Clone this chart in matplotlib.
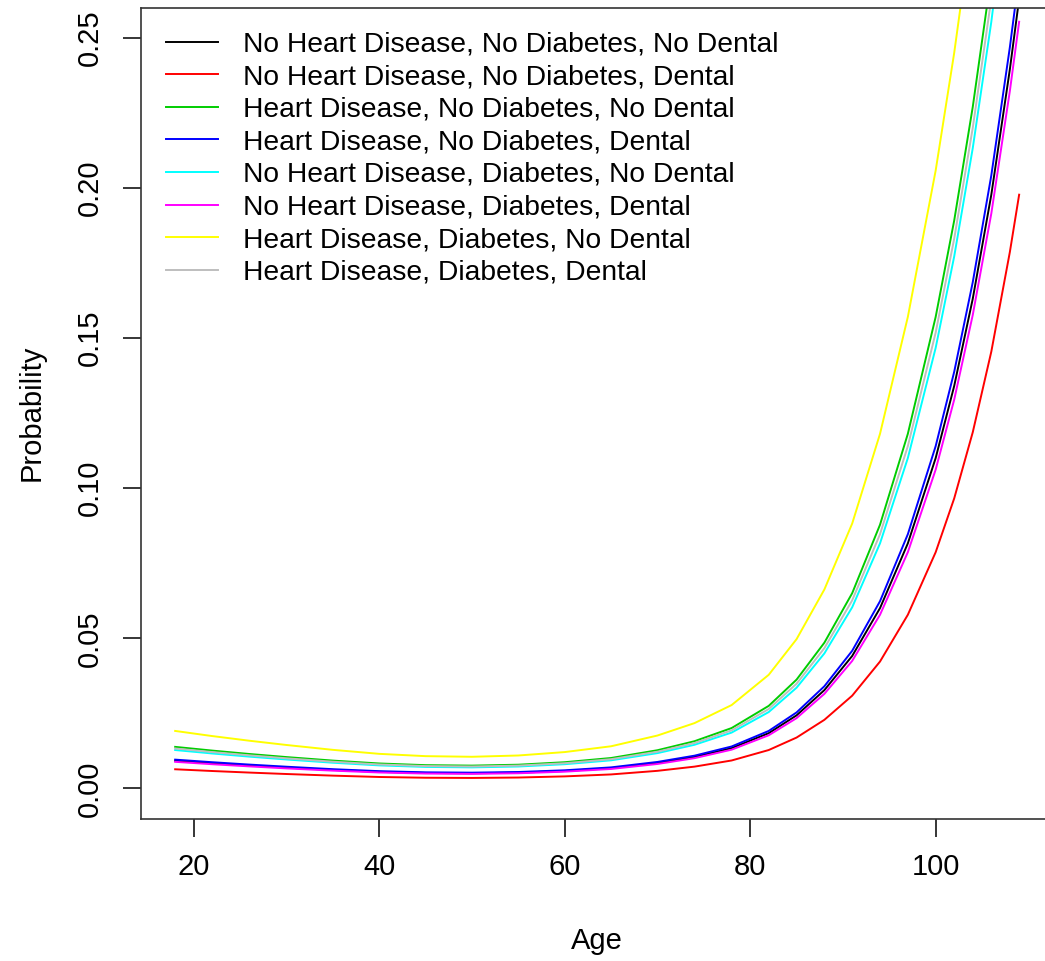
import matplotlib
matplotlib.use("Agg")
import matplotlib.pyplot as plt

ages = [18, 22, 26, 30, 35, 40, 45, 50, 55, 60, 65, 70, 74, 78, 82, 85,
        88, 91, 94, 97, 100, 102, 104, 106, 108, 109]

p_none = [0.00924, 0.00841, 0.00765, 0.00696, 0.00618, 0.00554, 0.00517,
          0.00507, 0.00527, 0.00582, 0.00676, 0.00849, 0.01051, 0.01345,
          0.01843, 0.02436, 0.03277, 0.04415, 0.06009, 0.08166, 0.11007,
          0.13412, 0.16315, 0.19781, 0.23957, 0.26308]
p_dental = [0.00640, 0.00582, 0.00530, 0.00482, 0.00428, 0.00383, 0.00358,
            0.00351, 0.00365, 0.00403, 0.00468, 0.00588, 0.00728, 0.00933,
            0.01281, 0.01696, 0.02287, 0.03092, 0.04229, 0.05787, 0.07871,
            0.09665, 0.11868, 0.14554, 0.17873, 0.19781]
p_heart = [0.01386, 0.01262, 0.01149, 0.01046, 0.00929, 0.00833, 0.00777,
           0.00762, 0.00792, 0.00875, 0.01015, 0.01274, 0.01575, 0.02013,
           0.02752, 0.03626, 0.04857, 0.06507, 0.08787, 0.11816, 0.15710,
           0.18924, 0.22707, 0.27094, 0.32192, 0.34980]
p_heart_dental = [0.00961, 0.00875, 0.00796, 0.00725, 0.00643, 0.00577,
                  0.00538, 0.00527, 0.00549, 0.00606, 0.00703, 0.00884,
                  0.01093, 0.01399, 0.01917, 0.02533, 0.03406, 0.04587,
                  0.06239, 0.08471, 0.11405, 0.13883, 0.16868, 0.20424,
                  0.24694, 0.27093]
p_diab = [0.01281, 0.01166, 0.01061, 0.00966, 0.00858, 0.00769, 0.00718,
          0.00703, 0.00732, 0.00808, 0.00938, 0.01178, 0.01456, 0.01862,
          0.02546, 0.03357, 0.04500, 0.06037, 0.08166, 0.11008, 0.14679,
          0.17727, 0.21334, 0.25541, 0.30473, 0.33182]
p_diab_dental = [0.00888, 0.00808, 0.00736, 0.00669, 0.00594, 0.00533,
                 0.00497, 0.00487, 0.00507, 0.00560, 0.00650, 0.00816,
                 0.01010, 0.01293, 0.01772, 0.02343, 0.03152, 0.04250,
                 0.05787, 0.07871, 0.10622, 0.12955, 0.15776, 0.19155,
                 0.23237, 0.25541]
p_heart_diab = [0.01917, 0.01746, 0.01591, 0.01449, 0.01287, 0.01154,
                0.01077, 0.01056, 0.01099, 0.01213, 0.01406, 0.01764,
                0.02178, 0.02779, 0.03787, 0.04974, 0.06630, 0.08827,
                0.11816, 0.15710, 0.20587, 0.24509, 0.29009, 0.34068,
                0.39772, 0.42798]
p_all = [0.01332, 0.01213, 0.01104, 0.01005, 0.00892, 0.00800, 0.00747,
         0.00732, 0.00762, 0.00841, 0.00976, 0.01225, 0.01514, 0.01936,
         0.02647, 0.03489, 0.04675, 0.06268, 0.08471, 0.11405, 0.15187,
         0.18317, 0.22011, 0.26308, 0.31323, 0.34067]

labels = [
    "No Heart Disease, No Diabetes, No Dental",
    "No Heart Disease, No Diabetes, Dental",
    "Heart Disease, No Diabetes, No Dental",
    "Heart Disease, No Diabetes, Dental",
    "No Heart Disease, Diabetes, No Dental",
    "No Heart Disease, Diabetes, Dental",
    "Heart Disease, Diabetes, No Dental",
    "Heart Disease, Diabetes, Dental",
]
series = [p_none, p_dental, p_heart, p_heart_dental,
          p_diab, p_diab_dental, p_heart_diab, p_all]
# R's old default palette(), in the same order as the legend
colors = ["black", "red", "#00CD00", "blue", "cyan", "magenta", "yellow", "#BEBEBE"]

plt.rcParams["font.family"] = ["Liberation Sans", "DejaVu Sans"]
fs = 21
fs_leg = 20.3

W, H = 1045, 961
fig = plt.figure(figsize=(W / 100, H / 100), dpi=100, facecolor="white")

# plot region in pixels; the right edge runs past the image like in the original crop
left, right, top, bottom = 141.4, 1052.9, 8.0, 818.5
ax = fig.add_axes([left / W, (H - bottom) / H, (right - left) / W, (bottom - top) / H])

for vals, col, lab in zip(series, colors, labels):
    ax.plot(ages, vals, color=col, lw=1.4, label=lab)

ax.set_xlim(14.36, 112.64)
ax.set_ylim(-0.01, 0.26)
ax.set_xticks([20, 40, 60, 80, 100])
ax.set_yticks([0.00, 0.05, 0.10, 0.15, 0.20, 0.25])
ax.set_yticklabels(["0.00", "0.05", "0.10", "0.15", "0.20", "0.25"],
                   rotation=90, va="center")
ax.tick_params(direction="out", length=13, width=1.1, labelsize=fs,
               colors="black")
ax.tick_params(axis="x", pad=12)
ax.tick_params(axis="y", pad=14)
for sp in ax.spines.values():
    sp.set_linewidth(1.2)
    sp.set_color("#333333")

ax.set_xlabel("Age", fontsize=fs, labelpad=33)
ax.set_ylabel("Probability", fontsize=fs, labelpad=22)

ax.legend(loc="upper left",
          bbox_to_anchor=(25 / (right - left), 1 - 23.5 / (bottom - top)),
          frameon=False, fontsize=fs_leg, handlelength=1.84, handletextpad=0.87,
          labelspacing=0.234, borderaxespad=0, borderpad=0)

fig.savefig("out.png", dpi=100)
